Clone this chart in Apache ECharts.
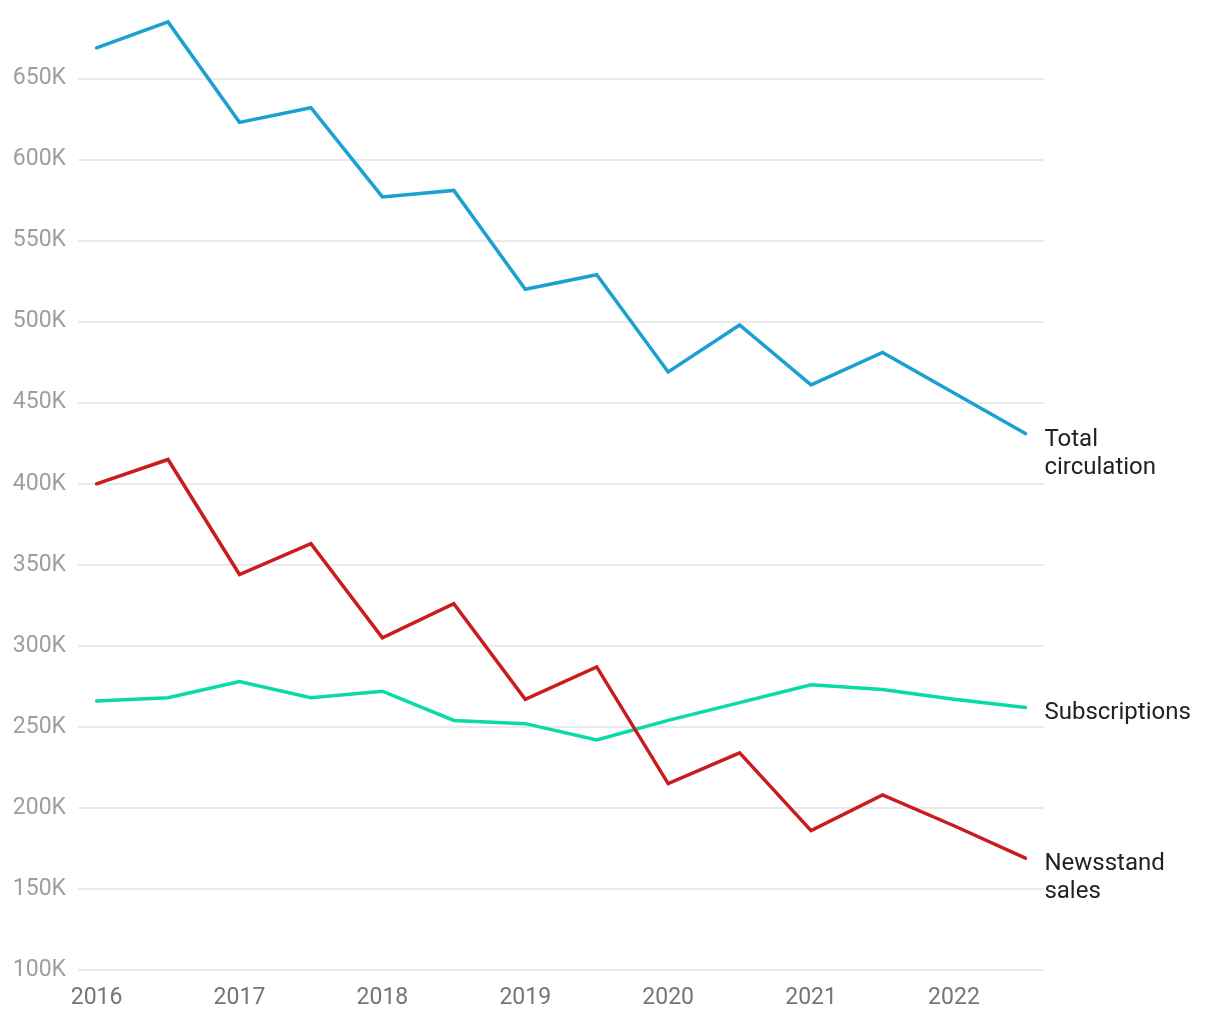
<!DOCTYPE html>
<html>
<head>
<meta charset="utf-8">
<script src="https://cdn.jsdelivr.net/npm/echarts@6/dist/echarts.min.js"></script>
<style>
  html, body { margin: 0; padding: 0; background: #ffffff; }
  #chart { width: 1220px; height: 1020px; }
</style>
</head>
<body>
<div id="chart"></div>
<script>
// Half-year periods
const periods = [2016, 2016.5, 2017, 2017.5, 2018, 2018.5, 2019, 2019.5, 2020, 2020.5, 2021, 2021.5, 2022, 2022.5];
// Values in thousands
const totalCirculation = [669, 685, 623, 632, 577, 581, 520, 529, 469, 498, 461, 481, 456, 431];
const newsstandSales   = [400, 415, 344, 363, 305, 326, 267, 287, 215, 234, 186, 208, 189, 169];
const subscriptions    = [266, 268, 278, 268, 272, 254, 252, 242, 254, 265, 276, 273, 267, 262];
const xTickLabels = [2016, 2017, 2018, 2019, 2020, 2021, 2022];
const seriesNames = ['Total circulation', 'Subscriptions', 'Newsstand sales'];
const endLabelTexts = ['Total\ncirculation', 'Subscriptions', 'Newsstand\nsales'];

const toPairs = arr => periods.map((p, i) => [p, arr[i] * 1000]);

const FONT = 'Roboto';
const chart = echarts.init(document.getElementById('chart'), null, { renderer: 'canvas' });

function lineSeries(name, data, color, labelText, dy) {
  return {
    name: name,
    type: 'line',
    data: toPairs(data),
    symbol: 'none',
    showSymbol: false,
    clip: false,
    lineStyle: { width: 3.5, color: color, cap: 'round', join: 'miter' },
    itemStyle: { color: color },
    emphasis: { disabled: true },
    endLabel: {
      show: true,
      formatter: () => labelText,
      color: '#222222',
      fontFamily: FONT,
      fontSize: 24,
      lineHeight: 28,
      distance: 19,
      offset: [0, dy],
      align: 'left'
    }
  };
}

chart.setOption({
  animation: false,
  backgroundColor: '#ffffff',
  grid: { left: 78, right: 176, top: 0, bottom: 50, containLabel: false },
  xAxis: {
    type: 'value',
    min: 2015.87,
    max: 2022.63,
    axisLine: { show: false },
    axisTick: { show: false },
    splitLine: { show: false },
    axisLabel: {
      customValues: xTickLabels,
      formatter: v => String(Math.round(v)),
      color: '#757575',
      fontFamily: FONT,
      fontSize: 23,
      margin: 17
    }
  },
  yAxis: {
    type: 'value',
    min: 100000,
    max: 698500,
    interval: 50000,
    axisLine: { show: false },
    axisTick: { show: false },
    splitLine: { show: true, showMaxLine: false, lineStyle: { color: '#e3e3e3', width: 1.5 } },
    axisLabel: {
      formatter: v => (v > 650000 ? '' : (v / 1000) + 'K'),
      color: '#9e9e9e',
      fontFamily: FONT,
      fontSize: 23,
      margin: 12,
      padding: [4, 0, 0, 0]
    }
  },
  series: [
    lineSeries(seriesNames[0], totalCirculation, '#1ba1d1', endLabelTexts[0], 20),
    lineSeries(seriesNames[1], subscriptions, '#08dba5', endLabelTexts[1], 6),
    lineSeries(seriesNames[2], newsstandSales, '#c91c1f', endLabelTexts[2], 20)
  ]
});
</script>
</body>
</html>
